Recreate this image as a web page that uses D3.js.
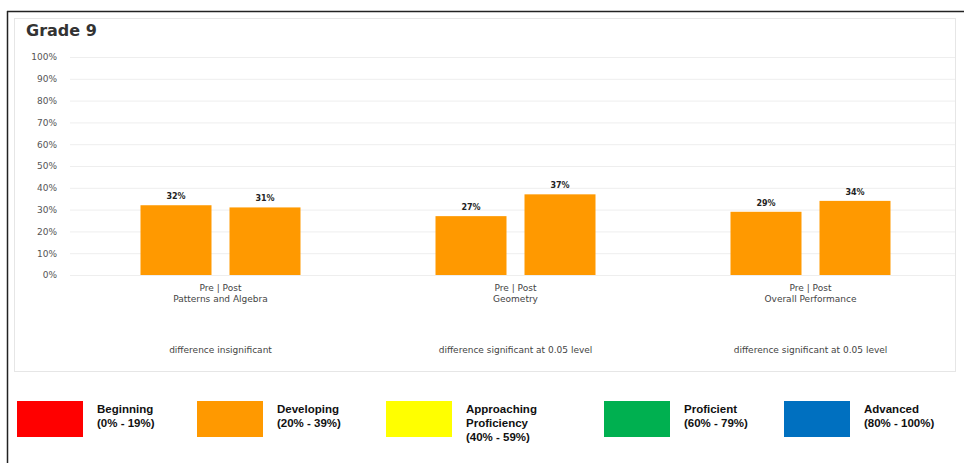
<!DOCTYPE html>
<html>
<head>
<meta charset="utf-8">
<script src="https://cdn.jsdelivr.net/npm/d3@7"></script>
<style>
  html, body { margin: 0; padding: 0; background: #fff; }
  svg { display: block; font-family: "DejaVu Sans", sans-serif; }
</style>
</head>
<body>
<svg id="chart" width="964" height="463"></svg>
<script>
// Grade 9 pre/post results by strand
const categories = ["Patterns and Algebra", "Geometry", "Overall Performance"];
const phases = ["Pre", "Post"];
const preValues = [32, 27, 29];
const postValues = [31, 37, 34];
const significance = [
  "difference insignificant",
  "difference significant at 0.05 level",
  "difference significant at 0.05 level"
];
const yTicks = [0, 10, 20, 30, 40, 50, 60, 70, 80, 90, 100];
const levelNames = [["Beginning"], ["Developing"], ["Approaching", "Proficiency"], ["Proficient"], ["Advanced"]];
const levelRanges = ["(0% - 19%)", "(20% - 39%)", "(40% - 59%)", "(60% - 79%)", "(80% - 100%)"];
const levelColors = ["#ff0000", "#ff9900", "#ffff00", "#00b050", "#0070c0"];
const levelBreaks = [0, 20, 40, 60, 80];

const svg = d3.select("#chart");

// outer frame
svg.append("line").attr("x1", 7.5).attr("x2", 7.5).attr("y1", 11).attr("y2", 463)
  .attr("stroke", "#222").attr("stroke-width", 1.5);
svg.append("line").attr("x1", 7).attr("x2", 964).attr("y1", 11.5).attr("y2", 11.5)
  .attr("stroke", "#222").attr("stroke-width", 1.5);

// chart panel
svg.append("rect").attr("x", 14.5).attr("y", 18.5).attr("width", 941).attr("height", 353)
  .attr("fill", "#fff").attr("stroke", "#e6e6e6");

svg.append("text").attr("x", 26).attr("y", 36)
  .attr("font-size", 16).attr("font-weight", "bold").attr("fill", "#333")
  .text("Grade 9");

const y = d3.scaleLinear().domain([0, 100]).range([275, 57]);
const x0 = d3.scaleBand().domain(categories).range([73, 958]);
const x1 = d3.scaleBand().domain(phases).range([-80, 80]).paddingInner(18 / 89);
const levelColor = d3.scaleThreshold().domain(levelBreaks.slice(1)).range(levelColors);

// grid
svg.append("g").selectAll("line").data(yTicks).join("line")
  .attr("x1", 70).attr("x2", 955)
  .attr("y1", d => y(d) + 0.5).attr("y2", d => y(d) + 0.5)
  .attr("stroke", "#eeeeee");

// y axis labels
const yAxis = d3.axisLeft(y).tickValues(yTicks).tickFormat(d => d + "%").tickSize(0).tickPadding(0);
const gy = svg.append("g").attr("transform", "translate(57,0)").call(yAxis);
gy.select(".domain").remove();
gy.selectAll("text").attr("font-size", 9).attr("fill", "#555").attr("font-family", "DejaVu Sans, sans-serif");

// bars
const rows = categories.map((c, i) => ({ cat: c, vals: [preValues[i], postValues[i]], sig: significance[i] }));
const group = svg.append("g").selectAll("g").data(rows).join("g")
  .attr("transform", d => `translate(${x0(d.cat) + x0.bandwidth() / 2},0)`);

group.selectAll("rect").data(d => d.vals.map((v, j) => ({ phase: phases[j], v }))).join("rect")
  .attr("x", d => x1(d.phase))
  .attr("width", x1.bandwidth())
  .attr("y", d => y(d.v))
  .attr("height", d => y(0) - y(d.v))
  .attr("fill", d => levelColor(d.v));

group.selectAll("text.val").data(d => d.vals.map((v, j) => ({ phase: phases[j], v }))).join("text")
  .attr("class", "val")
  .attr("x", d => x1(d.phase) + x1.bandwidth() / 2)
  .attr("y", d => y(d.v) - 6)
  .attr("text-anchor", "middle").attr("font-size", 8).attr("font-weight", "bold").attr("fill", "#222")
  .text(d => d.v + "%");

group.append("text").attr("y", 291).attr("text-anchor", "middle")
  .attr("font-size", 9).attr("fill", "#444").text(phases.join(" | "));
group.append("text").attr("y", 302).attr("text-anchor", "middle")
  .attr("font-size", 9).attr("fill", "#444").text(d => d.cat);
group.append("text").attr("y", 353).attr("text-anchor", "middle")
  .attr("font-size", 9).attr("fill", "#444").text(d => d.sig);

// legend
const legendX = [17, 197, 386, 604, 784];
const legend = svg.append("g").selectAll("g").data(levelColors).join("g")
  .attr("transform", (d, i) => `translate(${legendX[i]},401)`);
legend.append("rect").attr("width", 66).attr("height", 36).attr("fill", d => d);
legend.append("text")
  .attr("x", 80).attr("y", 12)
  .attr("font-family", "Arial, Liberation Sans, sans-serif")
  .attr("font-size", 11.5).attr("font-weight", "bold").attr("fill", "#111")
  .selectAll("tspan")
  .data((d, i) => levelNames[i].concat([levelRanges[i]]))
  .join("tspan").attr("x", 80).attr("dy", (d, i) => i === 0 ? 0 : 14).text(d => d);
</script>
</body>
</html>
